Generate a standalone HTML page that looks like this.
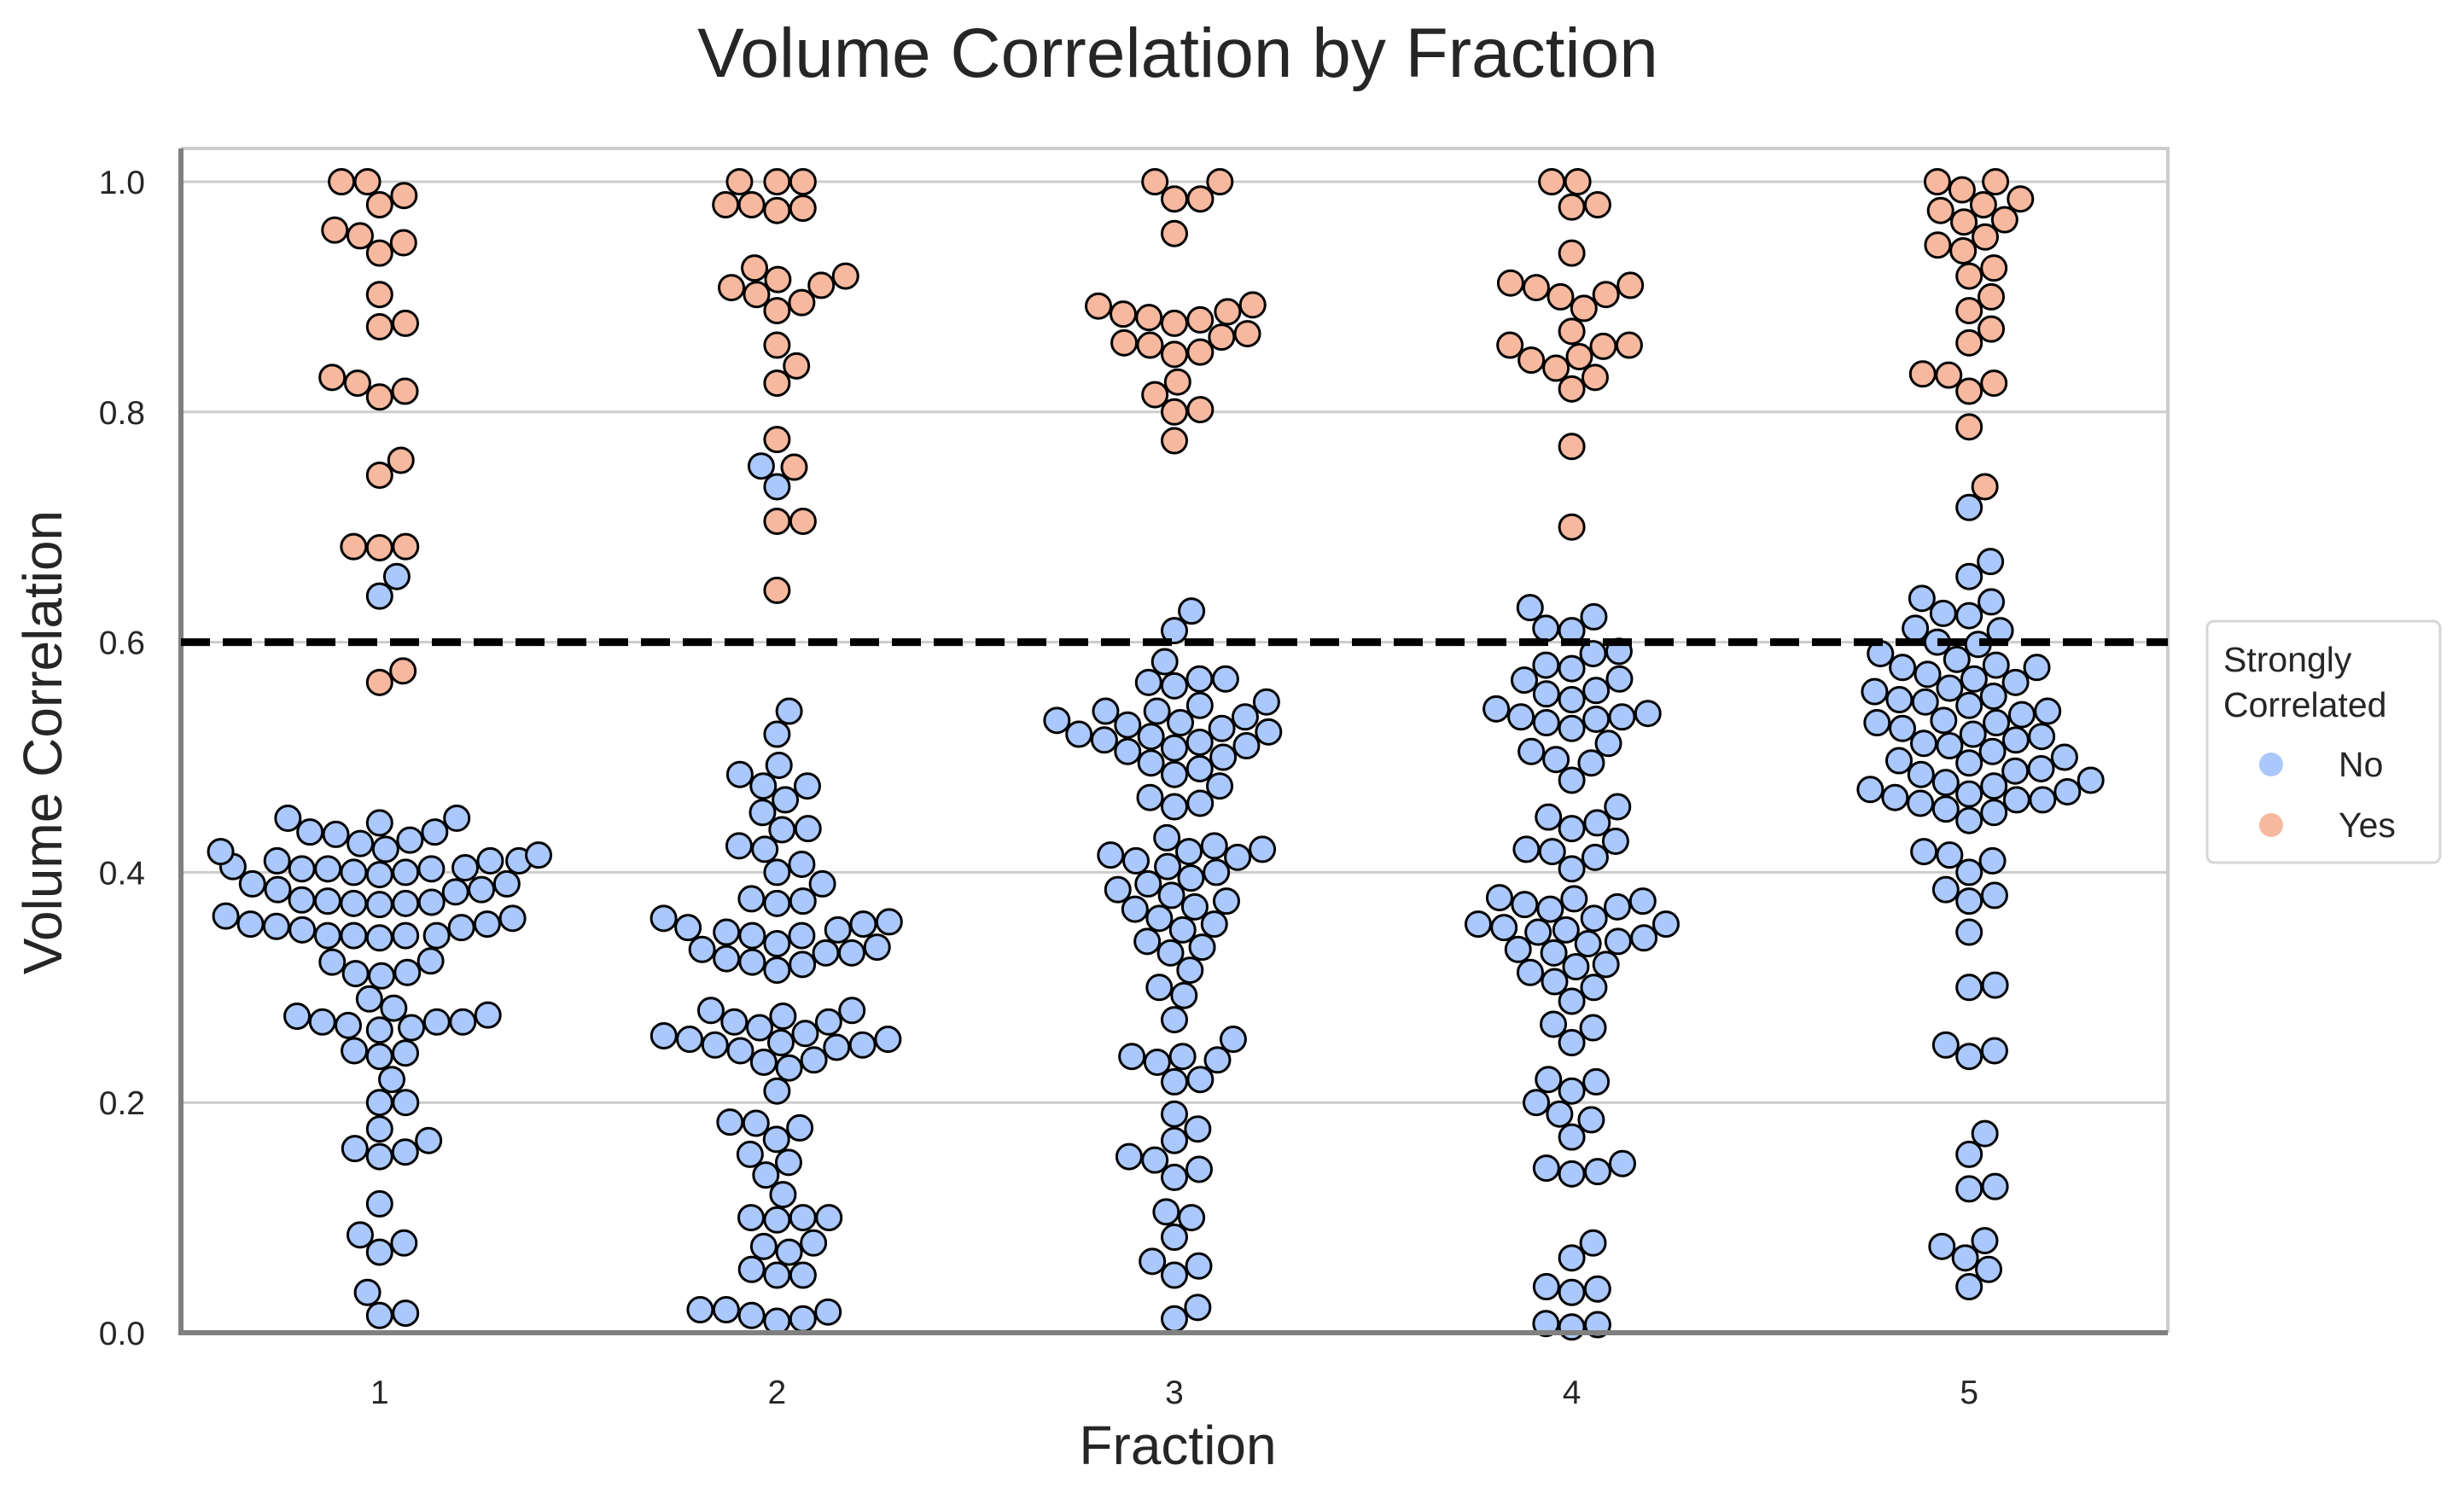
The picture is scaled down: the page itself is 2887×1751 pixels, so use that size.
<!DOCTYPE html>
<html><head><meta charset="utf-8"><style>
html,body{margin:0;padding:0;background:#fff;}
svg{display:block;font-family:"Liberation Sans",sans-serif;}
</style></head><body>
<svg id="chart" width="2887" height="1751" viewBox="0 0 2887 1751">
<text x="1380" y="90" font-size="82" fill="#262626" text-anchor="middle">Volume Correlation by Fraction</text>
<g id="grid"></g>
<g id="yticks"></g>
<g id="xticks"></g>
<g id="points"></g>
<text x="1380" y="1716" font-size="64" fill="#262626" text-anchor="middle">Fraction</text>
<text transform="translate(72,870) rotate(-90)" font-size="64" fill="#262626" text-anchor="middle">Volume Correlation</text>
<g>
<rect x="2586" y="728" width="273" height="283" rx="8" fill="#fff" stroke="#d6d6d6" stroke-width="3"/>
<text x="2605" y="787" font-size="41" fill="#262626">Strongly</text>
<text x="2605" y="840" font-size="41" fill="#262626">Correlated</text>
<circle cx="2661" cy="896" r="14" fill="#aac8fc"/>
<text x="2740" y="910" font-size="41" fill="#262626">No</text>
<circle cx="2661" cy="967" r="14" fill="#f6b89e"/>
<text x="2740" y="981" font-size="41" fill="#262626">Yes</text>
</g>
</svg>
<script>
const categories = ["1","2","3","4","5"];
const yTicks = [0.0,0.2,0.4,0.6,0.8,1.0];
const threshold = 0.6;
const yes1=[1.0,1.0,0.988,0.98,0.958,0.953,0.947,0.938,0.902,0.877,0.874,0.83,0.825,0.818,0.813,0.758,0.745,0.683,0.682,0.683,0.575,0.565];
const no1=[0.657,0.64,0.443,0.435,0.433,0.428,0.435,0.447,0.447,0.418,0.41,0.405,0.403,0.4,0.398,0.4,0.403,0.403,0.41,0.415,0.41,0.404,0.42,0.425,0.39,0.385,0.376,0.373,0.372,0.373,0.375,0.374,0.385,0.383,0.39,0.362,0.355,0.353,0.345,0.345,0.343,0.345,0.345,0.35,0.352,0.355,0.36,0.323,0.313,0.31,0.312,0.322,0.29,0.276,0.275,0.265,0.27,0.267,0.27,0.263,0.27,0.282,0.245,0.24,0.243,0.22,0.2,0.2,0.167,0.157,0.153,0.16,0.177,0.112,0.078,0.07,0.085,0.017,0.015,0.035];
const yes2=[1.0,1.0,1.0,0.98,0.977,0.975,0.98,0.925,0.918,0.915,0.91,0.908,0.902,0.895,0.888,0.858,0.84,0.825,0.776,0.752,0.705,0.705,0.645];
const no2=[0.753,0.735,0.54,0.52,0.493,0.485,0.475,0.475,0.463,0.452,0.438,0.437,0.423,0.42,0.407,0.4,0.39,0.377,0.375,0.373,0.36,0.357,0.355,0.352,0.35,0.348,0.345,0.345,0.338,0.335,0.333,0.33,0.33,0.325,0.322,0.32,0.315,0.28,0.28,0.275,0.27,0.27,0.265,0.26,0.258,0.255,0.255,0.252,0.25,0.25,0.248,0.245,0.237,0.235,0.23,0.21,0.183,0.182,0.178,0.168,0.155,0.148,0.137,0.12,0.1,0.1,0.1,0.098,0.078,0.075,0.07,0.055,0.05,0.05,0.02,0.02,0.018,0.015,0.012,0.01];
const yes3=[1.0,1.0,0.985,0.985,0.955,0.893,0.892,0.887,0.885,0.882,0.88,0.877,0.868,0.865,0.86,0.858,0.852,0.85,0.826,0.815,0.802,0.8,0.775];
const no3=[0.627,0.61,0.583,0.568,0.565,0.568,0.562,0.548,0.545,0.54,0.54,0.535,0.532,0.53,0.528,0.525,0.522,0.52,0.518,0.515,0.513,0.51,0.508,0.505,0.5,0.495,0.49,0.485,0.475,0.465,0.46,0.457,0.43,0.423,0.42,0.418,0.415,0.413,0.41,0.405,0.4,0.395,0.39,0.385,0.38,0.375,0.37,0.368,0.36,0.355,0.35,0.34,0.335,0.33,0.315,0.3,0.293,0.272,0.255,0.24,0.24,0.237,0.235,0.22,0.218,0.19,0.177,0.167,0.153,0.15,0.142,0.135,0.105,0.1,0.083,0.062,0.058,0.05,0.022,0.012];
const yes4=[1.0,1.0,0.98,0.978,0.938,0.912,0.91,0.908,0.902,0.9,0.89,0.87,0.858,0.858,0.857,0.848,0.845,0.838,0.83,0.82,0.77,0.7];
const no4=[0.63,0.622,0.612,0.61,0.592,0.59,0.58,0.577,0.568,0.567,0.558,0.555,0.55,0.542,0.538,0.535,0.535,0.533,0.53,0.525,0.512,0.505,0.498,0.495,0.48,0.457,0.448,0.443,0.438,0.427,0.42,0.418,0.413,0.403,0.378,0.377,0.375,0.372,0.37,0.368,0.36,0.355,0.355,0.352,0.35,0.348,0.343,0.34,0.338,0.333,0.33,0.32,0.318,0.313,0.305,0.3,0.288,0.268,0.265,0.252,0.22,0.218,0.21,0.2,0.19,0.185,0.17,0.147,0.143,0.14,0.138,0.078,0.065,0.04,0.038,0.035,0.008,0.007,0.005];
const yes5=[1.0,1.0,0.993,0.985,0.98,0.975,0.967,0.965,0.952,0.945,0.94,0.925,0.918,0.9,0.888,0.872,0.86,0.833,0.832,0.825,0.818,0.787,0.735];
const no5=[0.717,0.67,0.657,0.638,0.635,0.625,0.623,0.612,0.61,0.6,0.598,0.59,0.585,0.58,0.578,0.578,0.572,0.568,0.565,0.56,0.557,0.553,0.55,0.548,0.545,0.54,0.537,0.532,0.53,0.53,0.525,0.52,0.518,0.515,0.512,0.51,0.505,0.5,0.497,0.495,0.49,0.488,0.485,0.48,0.478,0.475,0.472,0.47,0.468,0.465,0.463,0.463,0.46,0.455,0.452,0.445,0.418,0.415,0.41,0.4,0.385,0.38,0.375,0.348,0.302,0.3,0.25,0.245,0.24,0.173,0.155,0.127,0.125,0.08,0.075,0.065,0.055,0.04];
const yesSeries=[yes1,yes2,yes3,yes4,yes5];
const noSeries=[no1,no2,no3,no4,no5];

const NS="http://www.w3.org/2000/svg";
const L=212,R=2540,T=174,B=1562,Y0=1562,Y1=213;
const step=(R-L)/5;
const xScale=i=>L+step*(i+0.5);
const yScale=v=>Y0-(Y0-Y1)*v;
function mk(tag,attrs,parent){const e=document.createElementNS(NS,tag);for(const k in attrs)e.setAttribute(k,attrs[k]);parent.appendChild(e);return e;}
const svg=document.getElementById('chart');
const grid=document.getElementById('grid');
yTicks.forEach(t=>{
  const ln=mk('line',{x1:L,x2:R,y1:yScale(t),y2:yScale(t),stroke:'#cccccc','stroke-width':3},grid);
  
  
  const tx=mk('text',{x:L-42,y:yScale(t)+14,'font-size':39,fill:'#262626','text-anchor':'end'},document.getElementById('yticks'));
  tx.textContent=t.toFixed(1);
  
  
});
categories.forEach((c,i)=>{
  const tx=mk('text',{x:xScale(i),y:1645,'font-size':39,fill:'#262626','text-anchor':'middle'},document.getElementById('xticks'));
  tx.textContent=c;
  
  
});
const fr=mk('path',{d:`M${L} ${T} H${R} V${B}`,fill:'none',stroke:'#cccccc','stroke-width':4},svg);


const ls=mk('path',{d:`M${L} ${T} V${B} H${R}`,fill:'none',stroke:'#808080','stroke-width':6},svg);


const pts=document.getElementById('points');
const D=30.5, W=step*0.4;
categories.forEach((c,i)=>{
  const items=[];
  noSeries[i].forEach(v=>items.push({v,yes:false}));
  yesSeries[i].forEach(v=>items.push({v,yes:true}));
  items.sort((a,b)=>a.v-b.v);
  const placed=[];
  items.forEach(it=>{
    const y=yScale(it.v);
    const near=placed.filter(p=>Math.abs(p.y-y)<D);
    const cands=[0];
    near.forEach(p=>{const dx=Math.sqrt(D*D-(p.y-y)**2);cands.push(p.x+dx,p.x-dx);});
    cands.sort((a,b)=>Math.abs(a)-Math.abs(b));
    let x=0;
    for(const cx of cands){if(near.every(p=>(p.x-cx)**2+(p.y-y)**2>=D*D-0.01)){x=cx;break;}}
    placed.push({x,y});
    let px=Math.max(-W,Math.min(W,x));
    const ci=mk('circle',{cx:xScale(i)+px,cy:y,r:14.5,fill:it.yes?'#f6b89e':'#aac8fc',stroke:'#000','stroke-width':3},pts);
    
    
  });
});
const th=mk('line',{x1:L,x2:R,y1:yScale(threshold),y2:yScale(threshold),stroke:'#000','stroke-width':9,'stroke-dasharray':'34 15'},svg);


</script>
</body></html>
